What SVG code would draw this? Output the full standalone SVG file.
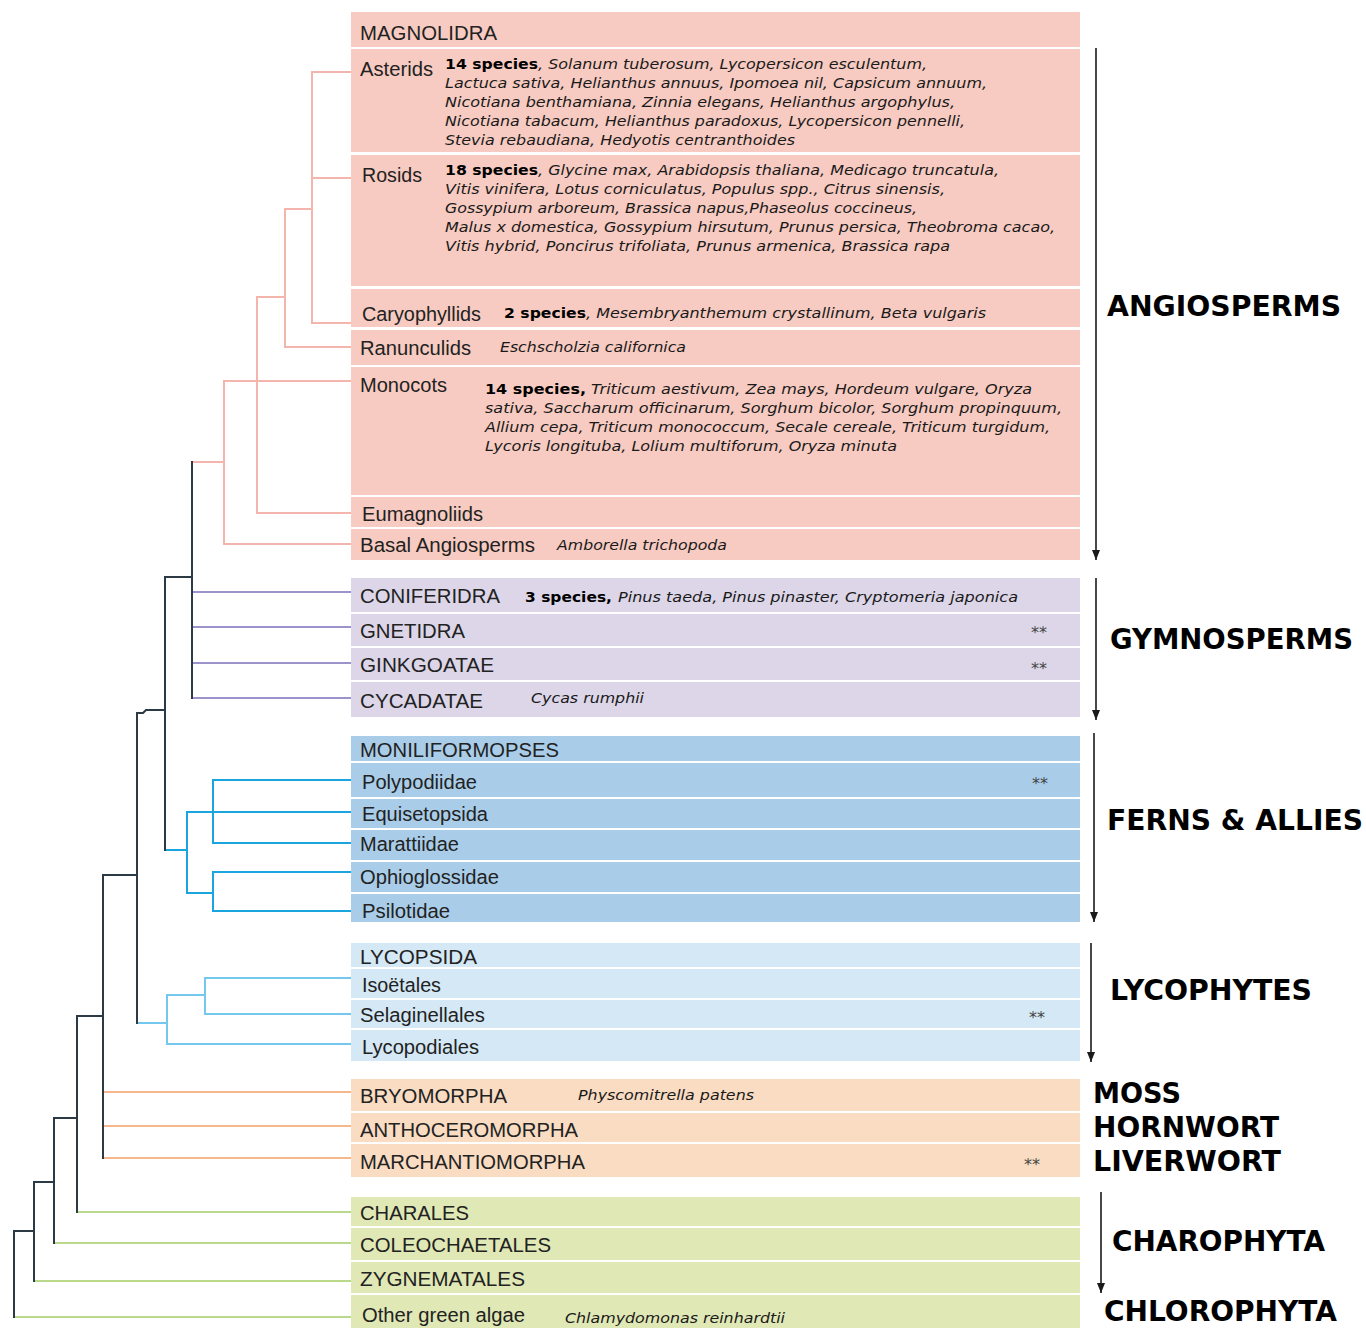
<svg xmlns="http://www.w3.org/2000/svg" width="1366" height="1328" viewBox="0 0 1366 1328">
<style>
.bg{fill:#ffffff}
.ang{fill:#f7cbc1}
.gym{fill:#dcd6e8}
.fern{fill:#a9cde9}
.lyc{fill:#d5e8f5}
.moss{fill:#f9dcc2}
.alg{fill:#e0e8b5}
.lbl{font-family:"Liberation Sans",Arial,sans-serif;font-size:20px;fill:#222}
.sp{font-family:"DejaVu Sans",Verdana,sans-serif;font-size:14px;font-style:italic;fill:#1a1a1a}
.spb{font-family:"DejaVu Sans",Verdana,sans-serif;font-size:14px;font-weight:bold;fill:#000}
.grp{font-family:"DejaVu Sans",Verdana,sans-serif;font-size:28px;font-weight:bold;fill:#000}
.ast{font-family:"DejaVu Sans",Verdana,sans-serif;font-size:16px;fill:#444}
.tr{fill:none;stroke-width:2;stroke-linecap:square}
.k{stroke:#2b3a44}
.pk{stroke:#f4b6ac}
.pu{stroke:#9d93cb}
.cy{stroke:#1aa5de}
.lb{stroke:#74c8ee}
.or{stroke:#f6b88a}
.gr{stroke:#bad98b}
.arr{stroke:#1a1a1a;stroke-width:1.6;fill:none}
</style>
<defs>
<marker id="ah" viewBox="0 0 10 8" refX="10" refY="4" markerWidth="10" markerHeight="8" markerUnits="userSpaceOnUse" orient="auto">
<path d="M0,0 L10,4 L0,8 Z" fill="#1a1a1a"/>
</marker>
</defs>
<rect class="bg" x="0" y="0" width="1366" height="1328"/>

<g id="connectors">
<path class="tr pk" d="M351,72 H312 V323 H351 M312,178 H351 M312,209 H285 V347 H351 M285,297 H257 V513 H351 M224,381 H351 M224,381 V544 H351 M224,462 H192"/>
<path class="tr pu" d="M192,592 H351 M192,627 H351 M192,663 H351 M192,698 H351"/>
<path class="tr cy" d="M165,850 H187 M187,812 V893 M187,812 H351 M213,780 V843 M213,780 H351 M213,843 H351 M187,893 H213 M213,872 V911 M213,872 H351 M213,911 H351"/>
<path class="tr lb" d="M137,1023 H167 M167,995 V1044 H351 M167,995 H205 M205,978 V1014 M205,978 H351 M205,1014 H351"/>
<path class="tr or" d="M103,1092 H351 M103,1126 H351 M103,1158 H351"/>
<path class="tr gr" d="M77,1212 H351 M54,1243 H351 M34,1281 H351 M14,1317 H351"/>
<path class="tr k" d="M192,462 V698 M192,577 H165 V850 M165,710 H146 L143,713 H137 V1023 M137,875 H103 V1158 M103,1016 H77 V1212 M77,1118 H54 V1243 M54,1182 H34 V1281 M34,1231 H14 V1317"/>
</g>

<g id="n-magnolidra"><rect class="ang" x="351" y="12" width="729" height="35"/><text class="lbl" x="360" y="40" textLength="137" lengthAdjust="spacingAndGlyphs">MAGNOLIDRA</text></g>
<g id="n-asterids"><rect class="ang" x="351" y="49" width="729" height="103"/><text class="lbl" x="360" y="76" textLength="73" lengthAdjust="spacingAndGlyphs">Asterids</text>
<text class="spb" x="445" y="69" textLength="93" lengthAdjust="spacingAndGlyphs">14 species</text>
<text class="sp" x="538" y="69" textLength="389" lengthAdjust="spacingAndGlyphs">, Solanum tuberosum, Lycopersicon esculentum,</text>
<text class="sp" x="445" y="88" textLength="542" lengthAdjust="spacingAndGlyphs">Lactuca sativa, Helianthus annuus, Ipomoea nil, Capsicum annuum,</text>
<text class="sp" x="445" y="107" textLength="510" lengthAdjust="spacingAndGlyphs">Nicotiana benthamiana, Zinnia elegans,  Helianthus argophylus,</text>
<text class="sp" x="445" y="126" textLength="520" lengthAdjust="spacingAndGlyphs">Nicotiana tabacum, Helianthus paradoxus, Lycopersicon pennelli,</text>
<text class="sp" x="445" y="145" textLength="350" lengthAdjust="spacingAndGlyphs">Stevia rebaudiana, Hedyotis centranthoides</text></g>
<g id="n-rosids"><rect class="ang" x="351" y="155" width="729" height="131"/><text class="lbl" x="362" y="182" textLength="60" lengthAdjust="spacingAndGlyphs">Rosids</text>
<text class="spb" x="445" y="175" textLength="93" lengthAdjust="spacingAndGlyphs">18 species</text>
<text class="sp" x="538" y="175" textLength="461" lengthAdjust="spacingAndGlyphs">, Glycine max, Arabidopsis thaliana, Medicago truncatula,</text>
<text class="sp" x="445" y="194" textLength="500" lengthAdjust="spacingAndGlyphs">Vitis vinifera, Lotus corniculatus, Populus spp., Citrus sinensis,</text>
<text class="sp" x="445" y="213" textLength="472" lengthAdjust="spacingAndGlyphs">Gossypium arboreum, Brassica napus,Phaseolus coccineus,</text>
<text class="sp" x="445" y="232" textLength="610" lengthAdjust="spacingAndGlyphs">Malus x domestica, Gossypium hirsutum, Prunus persica, Theobroma cacao,</text>
<text class="sp" x="445" y="251" textLength="505" lengthAdjust="spacingAndGlyphs">Vitis hybrid, Poncirus trifoliata, Prunus armenica, Brassica rapa</text></g>
<g id="n-caryophyllids"><rect class="ang" x="351" y="289" width="729" height="38"/><text class="lbl" x="362" y="321" textLength="119" lengthAdjust="spacingAndGlyphs">Caryophyllids</text>
<text class="spb" x="504" y="318" textLength="82" lengthAdjust="spacingAndGlyphs">2 species</text>
<text class="sp" x="586" y="318" textLength="400" lengthAdjust="spacingAndGlyphs">, Mesembryanthemum crystallinum, Beta vulgaris</text></g>
<g id="n-ranunculids"><rect class="ang" x="351" y="330" width="729" height="35"/><text class="lbl" x="360" y="355" textLength="111" lengthAdjust="spacingAndGlyphs">Ranunculids</text>
<text class="sp" x="500" y="352" textLength="186" lengthAdjust="spacingAndGlyphs">Eschscholzia californica</text></g>
<g id="n-monocots"><rect class="ang" x="351" y="367" width="729" height="128"/><text class="lbl" x="360" y="392" textLength="87" lengthAdjust="spacingAndGlyphs">Monocots</text>
<text class="spb" x="485" y="394" textLength="101" lengthAdjust="spacingAndGlyphs">14 species,</text>
<text class="sp" x="591" y="394" textLength="441" lengthAdjust="spacingAndGlyphs">Triticum aestivum, Zea mays, Hordeum vulgare, Oryza</text>
<text class="sp" x="485" y="413" textLength="577" lengthAdjust="spacingAndGlyphs">sativa, Saccharum officinarum, Sorghum bicolor, Sorghum propinquum,</text>
<text class="sp" x="485" y="432" textLength="565" lengthAdjust="spacingAndGlyphs">Allium cepa, Triticum monococcum, Secale cereale, Triticum turgidum,</text>
<text class="sp" x="485" y="451" textLength="412" lengthAdjust="spacingAndGlyphs">Lycoris longituba, Lolium multiforum, Oryza minuta</text></g>
<g id="n-eumagnoliids"><rect class="ang" x="351" y="497" width="729" height="30"/><text class="lbl" x="362" y="521" textLength="121" lengthAdjust="spacingAndGlyphs">Eumagnoliids</text></g>
<g id="n-basal"><rect class="ang" x="351" y="529" width="729" height="31"/><text class="lbl" x="360" y="552" textLength="175" lengthAdjust="spacingAndGlyphs">Basal Angiosperms</text>
<text class="sp" x="557" y="550" textLength="170" lengthAdjust="spacingAndGlyphs">Amborella trichopoda</text></g>

<g id="n-coniferidra"><rect class="gym" x="351" y="578" width="729" height="34"/><text class="lbl" x="360" y="603" textLength="140" lengthAdjust="spacingAndGlyphs">CONIFERIDRA</text>
<text class="spb" x="525" y="602" textLength="87" lengthAdjust="spacingAndGlyphs">3 species,</text>
<text class="sp" x="618" y="602" textLength="400" lengthAdjust="spacingAndGlyphs">Pinus taeda, Pinus pinaster, Cryptomeria japonica</text></g>
<g id="n-gnetidra"><rect class="gym" x="351" y="614" width="729" height="32"/><text class="lbl" x="360" y="638" textLength="105" lengthAdjust="spacingAndGlyphs">GNETIDRA</text><text class="ast" x="1031" y="638">**</text></g>
<g id="n-ginkgoatae"><rect class="gym" x="351" y="648" width="729" height="32"/><text class="lbl" x="360" y="672" textLength="134" lengthAdjust="spacingAndGlyphs">GINKGOATAE</text><text class="ast" x="1031" y="674">**</text></g>
<g id="n-cycadatae"><rect class="gym" x="351" y="682" width="729" height="35"/><text class="lbl" x="360" y="708" textLength="123" lengthAdjust="spacingAndGlyphs">CYCADATAE</text>
<text class="sp" x="531" y="703" textLength="113" lengthAdjust="spacingAndGlyphs">Cycas rumphii</text></g>

<g id="n-moniliformopses"><rect class="fern" x="351" y="736" width="729" height="25"/><text class="lbl" x="360" y="757" textLength="199" lengthAdjust="spacingAndGlyphs">MONILIFORMOPSES</text></g>
<g id="n-polypodiidae"><rect class="fern" x="351" y="763" width="729" height="34"/><text class="lbl" x="362" y="789" textLength="115" lengthAdjust="spacingAndGlyphs">Polypodiidae</text><text class="ast" x="1032" y="789">**</text></g>
<g id="n-equisetopsida"><rect class="fern" x="351" y="799" width="729" height="29"/><text class="lbl" x="362" y="821" textLength="126" lengthAdjust="spacingAndGlyphs">Equisetopsida</text></g>
<g id="n-marattiidae"><rect class="fern" x="351" y="830" width="729" height="30"/><text class="lbl" x="360" y="851" textLength="99" lengthAdjust="spacingAndGlyphs">Marattiidae</text></g>
<g id="n-ophioglossidae"><rect class="fern" x="351" y="862" width="729" height="30"/><text class="lbl" x="360" y="884" textLength="139" lengthAdjust="spacingAndGlyphs">Ophioglossidae</text></g>
<g id="n-psilotidae"><rect class="fern" x="351" y="894" width="729" height="28"/><text class="lbl" x="362" y="918" textLength="88" lengthAdjust="spacingAndGlyphs">Psilotidae</text></g>

<g id="n-lycopsida"><rect class="lyc" x="351" y="943" width="729" height="24"/><text class="lbl" x="360" y="964" textLength="117" lengthAdjust="spacingAndGlyphs">LYCOPSIDA</text></g>
<g id="n-isoetales"><rect class="lyc" x="351" y="969" width="729" height="29"/><text class="lbl" x="362" y="992" textLength="79" lengthAdjust="spacingAndGlyphs">Isoëtales</text></g>
<g id="n-selaginellales"><rect class="lyc" x="351" y="1000" width="729" height="28"/><text class="lbl" x="360" y="1022" textLength="125" lengthAdjust="spacingAndGlyphs">Selaginellales</text><text class="ast" x="1029" y="1023">**</text></g>
<g id="n-lycopodiales"><rect class="lyc" x="351" y="1030" width="729" height="31"/><text class="lbl" x="362" y="1054" textLength="117" lengthAdjust="spacingAndGlyphs">Lycopodiales</text></g>

<g id="n-bryomorpha"><rect class="moss" x="351" y="1079" width="729" height="32"/><text class="lbl" x="360" y="1103" textLength="147" lengthAdjust="spacingAndGlyphs">BRYOMORPHA</text>
<text class="sp" x="578" y="1100" textLength="176" lengthAdjust="spacingAndGlyphs">Physcomitrella patens</text></g>
<g id="n-anthoceromorpha"><rect class="moss" x="351" y="1113" width="729" height="29"/><text class="lbl" x="360" y="1137" textLength="218" lengthAdjust="spacingAndGlyphs">ANTHOCEROMORPHA</text></g>
<g id="n-marchantiomorpha"><rect class="moss" x="351" y="1144" width="729" height="33"/><text class="lbl" x="360" y="1169" textLength="225" lengthAdjust="spacingAndGlyphs">MARCHANTIOMORPHA</text><text class="ast" x="1024" y="1170">**</text></g>

<g id="n-charales"><rect class="alg" x="351" y="1197" width="729" height="29"/><text class="lbl" x="360" y="1220" textLength="109" lengthAdjust="spacingAndGlyphs">CHARALES</text></g>
<g id="n-coleochaetales"><rect class="alg" x="351" y="1228" width="729" height="32"/><text class="lbl" x="360" y="1252" textLength="191" lengthAdjust="spacingAndGlyphs">COLEOCHAETALES</text></g>
<g id="n-zygnematales"><rect class="alg" x="351" y="1262" width="729" height="31"/><text class="lbl" x="360" y="1286" textLength="165" lengthAdjust="spacingAndGlyphs">ZYGNEMATALES</text></g>
<g id="n-othergreen"><rect class="alg" x="351" y="1295" width="729" height="33"/><text class="lbl" x="362" y="1322" textLength="163" lengthAdjust="spacingAndGlyphs">Other green algae</text>
<text class="sp" x="565" y="1323" textLength="220" lengthAdjust="spacingAndGlyphs">Chlamydomonas reinhardtii</text></g>

<g id="groups">
<line class="arr" x1="1096" y1="48" x2="1096" y2="560" marker-end="url(#ah)"/>
<line class="arr" x1="1096" y1="578" x2="1096" y2="720" marker-end="url(#ah)"/>
<line class="arr" x1="1094" y1="733" x2="1094" y2="922" marker-end="url(#ah)"/>
<line class="arr" x1="1091" y1="943" x2="1091" y2="1062" marker-end="url(#ah)"/>
<line class="arr" x1="1101" y1="1192" x2="1101" y2="1293" marker-end="url(#ah)"/>
<text class="grp" x="1107" y="316" textLength="234" lengthAdjust="spacingAndGlyphs">ANGIOSPERMS</text>
<text class="grp" x="1110" y="649" textLength="243" lengthAdjust="spacingAndGlyphs">GYMNOSPERMS</text>
<text class="grp" x="1107" y="830" textLength="256" lengthAdjust="spacingAndGlyphs">FERNS &amp; ALLIES</text>
<text class="grp" x="1110" y="1000" textLength="202" lengthAdjust="spacingAndGlyphs">LYCOPHYTES</text>
<text class="grp" x="1093" y="1103" textLength="88" lengthAdjust="spacingAndGlyphs">MOSS</text>
<text class="grp" x="1093" y="1137" textLength="186" lengthAdjust="spacingAndGlyphs">HORNWORT</text>
<text class="grp" x="1093" y="1171" textLength="188" lengthAdjust="spacingAndGlyphs">LIVERWORT</text>
<text class="grp" x="1112" y="1251" textLength="213" lengthAdjust="spacingAndGlyphs">CHAROPHYTA</text>
<text class="grp" x="1104" y="1321" textLength="233" lengthAdjust="spacingAndGlyphs">CHLOROPHYTA</text>
</g>
</svg>
